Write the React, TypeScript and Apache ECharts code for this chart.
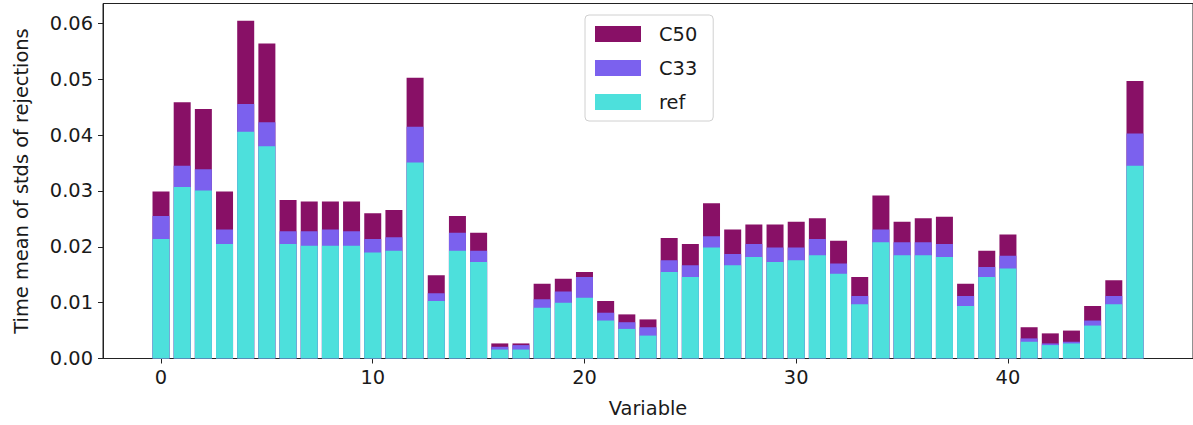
import React, { useEffect, useRef } from "react";
import * as echarts from "echarts";

const variables: number[] = Array.from({ length: 47 }, (_, i) => i);

const c50: number[] = [
  0.0299, 0.0459, 0.0447, 0.0299, 0.0605, 0.0564, 0.0284, 0.0281, 0.0281, 0.0281,
  0.026, 0.0266, 0.0503, 0.0149, 0.0255, 0.0225, 0.0027, 0.0027, 0.0134, 0.0143,
  0.0155, 0.0103, 0.0079, 0.007, 0.0216, 0.0205, 0.0278, 0.0231, 0.024, 0.024,
  0.0245, 0.0251, 0.0211, 0.0146, 0.0292, 0.0245, 0.0251, 0.0254, 0.0134, 0.0193,
  0.0222, 0.0056, 0.0045, 0.005, 0.0094, 0.014, 0.0497,
];

const c33: number[] = [
  0.0255, 0.0345, 0.0339, 0.0231, 0.0456, 0.0423, 0.0228, 0.0228, 0.0231, 0.0228,
  0.0214, 0.0217, 0.0415, 0.0117, 0.0225, 0.0193, 0.0021, 0.0024, 0.0106, 0.012,
  0.0146, 0.0082, 0.0065, 0.0056, 0.0176, 0.0167, 0.0219, 0.0187, 0.0205, 0.0199,
  0.0199, 0.0214, 0.017, 0.0112, 0.0231, 0.0208, 0.0208, 0.0205, 0.0112, 0.0164,
  0.0184, 0.0036, 0.0027, 0.003, 0.0068, 0.0112, 0.0403,
];

const ref: number[] = [
  0.0214, 0.0307, 0.0301, 0.0205, 0.0406, 0.038, 0.0205, 0.0202, 0.0202, 0.0202,
  0.019, 0.0193, 0.0351, 0.0103, 0.0193, 0.0173, 0.0016, 0.0016, 0.0091, 0.01,
  0.0109, 0.0068, 0.0053, 0.0041, 0.0155, 0.0146, 0.0199, 0.0167, 0.0182, 0.0173,
  0.0176, 0.0185, 0.0152, 0.0097, 0.0208, 0.0185, 0.0185, 0.0182, 0.0094, 0.0146,
  0.0161, 0.003, 0.0024, 0.0027, 0.0059, 0.0097, 0.0345,
];

const xTicks: number[] = [0, 10, 20, 30, 40];
const yTicks: number[] = [0, 0.01, 0.02, 0.03, 0.04, 0.05, 0.06];

const seriesNames = ["C50", "C33", "ref"];
const seriesColors = ["#881066", "#7B61EE", "#4DE0DC"];
const seriesValues = [c50, c33, ref];

const FONT = "DejaVu Sans";
const TEXT = "#1a1a1a";

export default function App() {
  const ref_ = useRef<HTMLDivElement>(null);

  useEffect(() => {
    if (!ref_.current) return;
    const chart = echarts.init(ref_.current, null, { renderer: "svg" });
    chart.setOption({
      animation: false,
      backgroundColor: "#ffffff",
      grid: {
        left: 103,
        top: 3.5,
        width: 1091,
        height: 355,
        show: true,
        borderColor: "#222",
        borderWidth: 1,
        backgroundColor: "transparent",
        containLabel: false,
      },
      legend: {
        orient: "vertical",
        left: 585,
        top: 15,
        data: seriesNames,
        itemWidth: 46,
        itemHeight: 16,
        itemGap: 14,
        icon: "rect",
        padding: [9, 16, 9, 10],
        borderColor: "#d0d0d0",
        borderWidth: 1,
        borderRadius: 4,
        backgroundColor: "#ffffff",
        textStyle: {
          fontFamily: FONT,
          fontSize: 19.4,
          color: TEXT,
          padding: [0, 0, 0, 13],
          lineHeight: 20,
        },
      },
      xAxis: {
        type: "value",
        min: -2.74,
        max: 48.74,
        name: "Variable",
        nameLocation: "middle",
        nameGap: 40,
        nameTextStyle: { fontFamily: FONT, fontSize: 19.4, color: TEXT },
        splitLine: { show: false },
        axisLine: { show: true, onZero: false, lineStyle: { color: "#222", width: 1 } },
        axisTick: {
          show: true,
          length: 5,
          customValues: xTicks,
          lineStyle: { color: "#222", width: 1 },
        },
        axisLabel: {
          customValues: xTicks,
          fontFamily: FONT,
          fontSize: 19.4,
          color: TEXT,
          margin: 9,
        },
      },
      yAxis: {
        type: "value",
        min: 0,
        max: 0.06358,
        name: "Time mean of stds of rejections",
        nameLocation: "middle",
        nameGap: 72,
        nameTextStyle: { fontFamily: FONT, fontSize: 19.4, color: TEXT },
        splitLine: { show: false },
        axisLine: { show: true, onZero: false, lineStyle: { color: "#222", width: 1 } },
        axisTick: {
          show: true,
          length: 5,
          customValues: yTicks,
          lineStyle: { color: "#222", width: 1 },
        },
        axisLabel: {
          customValues: yTicks,
          fontFamily: FONT,
          fontSize: 19.4,
          color: TEXT,
          margin: 10,
          formatter: (v: number) => v.toFixed(2),
        },
      },
      series: seriesNames.map((name, si) => ({
        name,
        type: "bar",
        barWidth: 17,
        barGap: "-100%",
        itemStyle: { color: seriesColors[si] },
        data: variables.map((x, i) => [x, seriesValues[si][i]]),
      })),
    });
    return () => chart.dispose();
  }, []);

  return (
    <div
      ref={ref_}
      style={{ position: "fixed", left: 0, top: 0, width: 1193, height: 425 }}
    />
  );
}
